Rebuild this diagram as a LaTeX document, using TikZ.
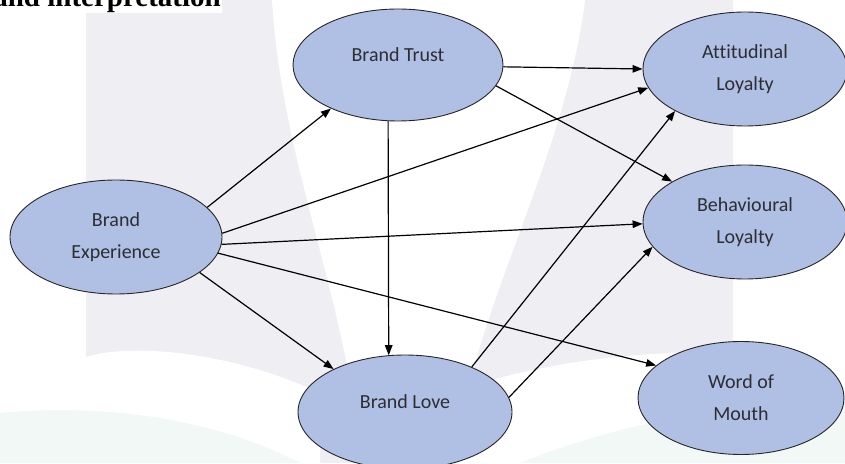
\documentclass[tikz,border=0pt]{standalone}
\usepackage{fontspec}
\setmainfont[Ligatures=NoCommon]{Carlito}
\newfontfamily\headfont{Liberation Serif}
\usetikzlibrary{shapes.geometric, arrows.meta, positioning}
\definecolor{periwinkle}{RGB}{176,192,228}
\definecolor{ashgray}{RGB}{239,238,242}
\definecolor{mintcream}{RGB}{242,248,246}
\definecolor{inkgray}{RGB}{45,45,50}

\begin{document}
\begin{tikzpicture}[x=1pt, y=1pt,
    construct/.style={ellipse, draw=black!85, line width=0.9pt, fill=periwinkle,
        inner sep=0pt, align=center, text=inkgray, font=\fontsize{20}{32}\selectfont},
    link/.style={line width=1.2pt, -{Triangle[length=10pt, width=7.5pt]}}]
    \useasboundingbox (0,0) rectangle (845,463);
    % faint watermark behind the model
    \fill[ashgray] (86,0) rectangle (733,463);
    \fill[white] (272,463) .. controls (282,300) and (345,170) .. (362,0) -- (455,0)
        .. controls (470,150) and (565,300) .. (585,463) -- cycle;
    \fill[white] (86,0) -- (86,106) .. controls (130,120) and (230,112) .. (320,70) -- (320,0) -- cycle;
    \fill[white] (430,0) -- (430,62) .. controls (520,98) and (620,112) .. (733,111) -- (733,0) -- cycle;
    \fill[mintcream] (0,0) -- (0,50) .. controls (80,58) and (200,52) .. (300,0) -- cycle;
    \fill[mintcream] (520,0) .. controls (640,48) and (760,62) .. (845,61) -- (845,0) -- cycle;
    % heading cut by the top edge
    \node[anchor=base east, fill=white, inner ysep=0pt, inner xsep=1pt,
        font=\headfont\bfseries\fontsize{29}{30}\selectfont] (heading) at (222,456.5) {and interpretation};

    \node[construct, minimum width=212pt, minimum height=114pt] (exp) at (116,226) {Brand\\Experience};
    \node[construct, minimum width=210pt, minimum height=112pt] (trust) at (398,398)
        {\raisebox{10pt}[\height][\depth]{Brand Trust}};
    \node[construct, minimum width=214pt, minimum height=114pt] (love) at (405,51)
        {\raisebox{10pt}[\height][\depth]{Brand Love}};
    \node[construct, minimum width=204pt, minimum height=114pt] (att) at (745,394) {Attitudinal\\Loyalty};
    \node[construct, minimum width=204pt, minimum height=114pt] (beh) at (745,241) {Behavioural\\Loyalty};
    \node[construct, minimum width=206pt, minimum height=113pt] (wom) at (741,65) {Word of\\Mouth};

    \draw[link] (exp.18) -- (trust.213);
    \draw[link] (exp.2) -- (att.191);
    \draw[link] (exp.-4) -- (beh.181);
    \draw[link] (exp.-9) -- (wom.159);
    \draw[link] (exp.-23) -- (love.149);
    \draw[link] (trust.-1) -- (att.180);
    \draw[link] (trust.-12) -- (beh.151);
    \draw[link] (trust.-100) -- (love.106);
    \draw[link] (love.34) -- (att.211);
    \draw[link] (love.8) -- (beh.195);
\end{tikzpicture}
\end{document}
